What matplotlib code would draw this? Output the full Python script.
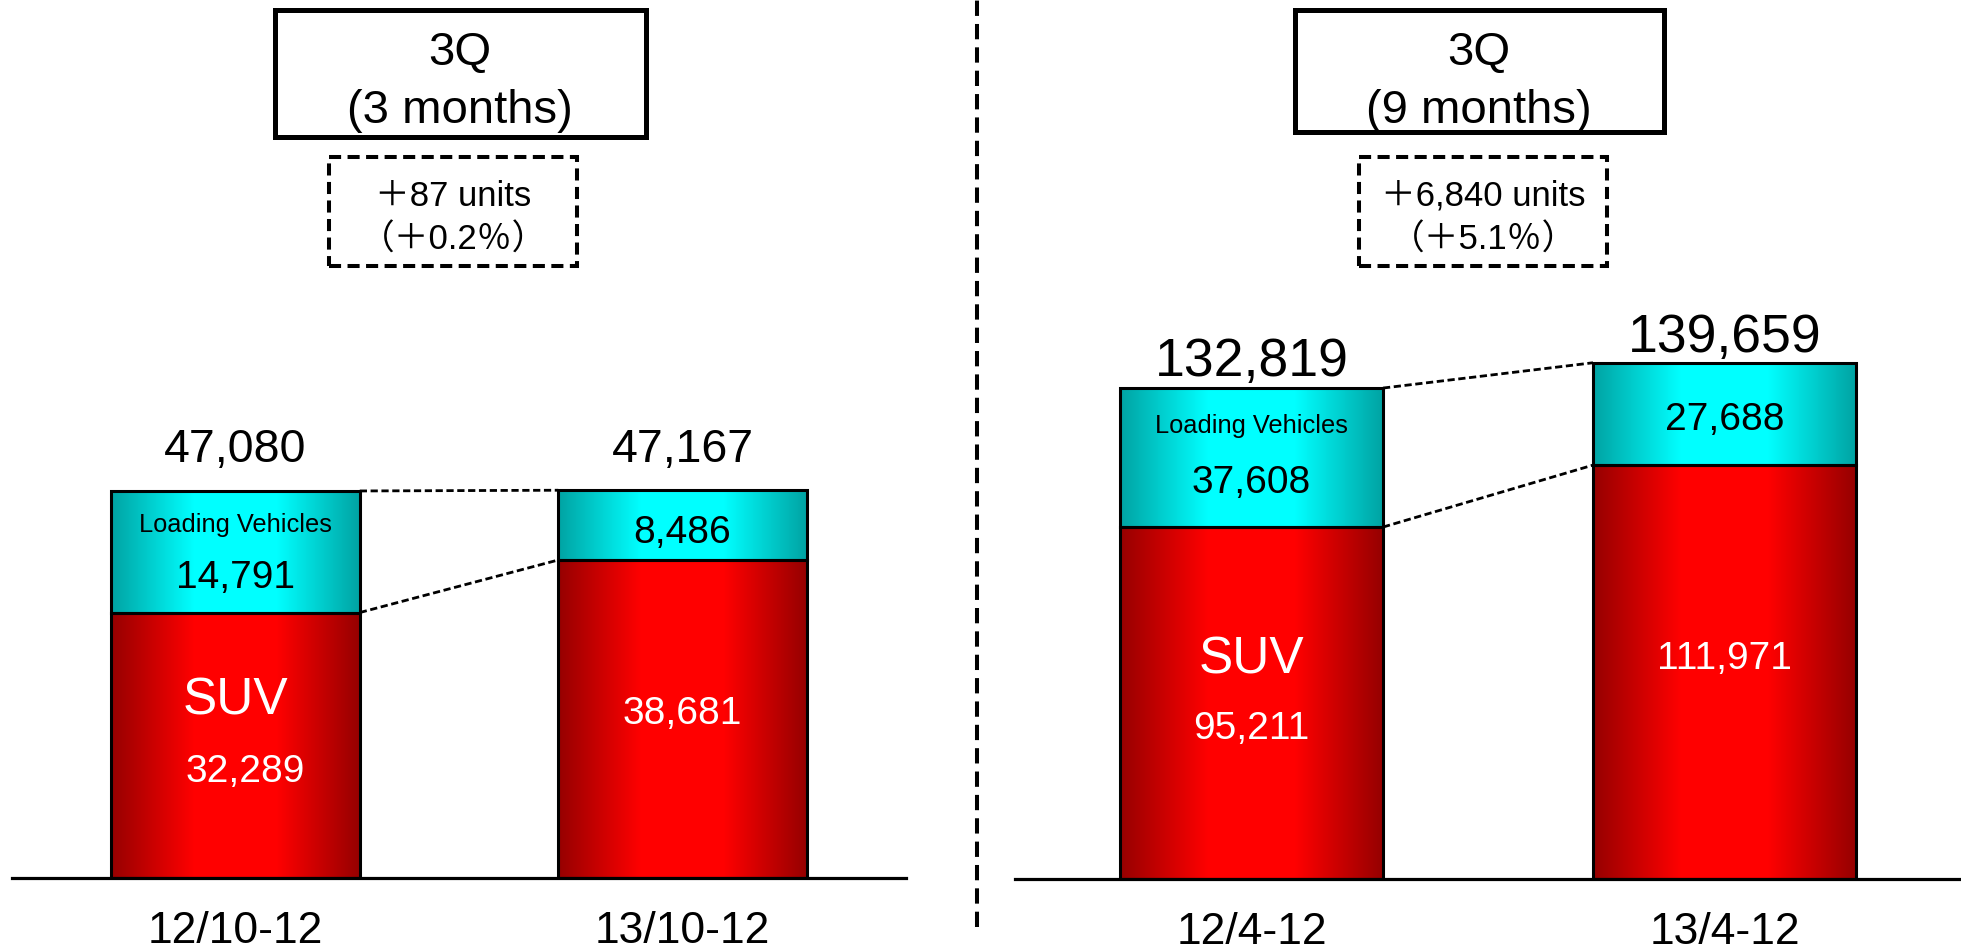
import matplotlib
matplotlib.use("Agg")
import matplotlib.pyplot as plt
import numpy as np
from matplotlib import font_manager
from matplotlib.colors import LinearSegmentedColormap
from matplotlib.patches import Rectangle
from matplotlib.lines import Line2D

W, H = 1961, 951

# sales by segment (units)
periods_3m = ["12/10-12", "13/10-12"]
suv_3m = [32289, 38681]
loading_3m = [14791, 8486]

periods_9m = ["12/4-12", "13/4-12"]
suv_9m = [95211, 111971]
loading_9m = [37608, 27688]

titles = ["3Q\n(3 months)", "3Q\n(9 months)"]

names = {f.name for f in font_manager.fontManager.ttflist}
SANS = "Liberation Sans" if "Liberation Sans" in names else "DejaVu Sans"
if "Liberation Sans Narrow" in names:
    NARROW, NARROW_SIZE = "Liberation Sans Narrow", 21
else:
    # no narrow face installed: shrink the regular one to the same width
    NARROW, NARROW_SIZE = SANS, 18.3
MIXED = [SANS, "Noto Sans CJK JP", "DejaVu Sans"]
plt.rcParams["font.family"] = [SANS, "Noto Sans CJK JP", "DejaVu Sans"]

red_cmap = LinearSegmentedColormap.from_list("red_bar", ["#960000", "#ff0000", "#ff0000", "#960000"])
teal_cmap = LinearSegmentedColormap.from_list("teal_bar", ["#00a3a3", "#00ffff", "#00ffff", "#00a3a3"])
grad = np.linspace(0, 1, 256)[None, :]


def px(x, y):
    # pixel position measured from the top-left -> figure fraction
    return x / W, 1 - y / H


def draw_panel(ax, periods, suv, loading, ymax, total_size, top_off, text_pos):
    x = np.arange(len(periods))
    width = 0.556
    totals = [s + l for s, l in zip(suv, loading)]

    suv_bars = ax.bar(x, suv, width, facecolor="none", edgecolor="black", lw=2.2, zorder=3)
    lv_bars = ax.bar(x, loading, width, bottom=suv, facecolor="none", edgecolor="black", lw=2.2, zorder=3)
    for bars, cmap in ((suv_bars, red_cmap), (lv_bars, teal_cmap)):
        for b in bars:
            x0, y0 = b.get_x(), b.get_y()
            ax.imshow(grad, cmap=cmap, aspect="auto", interpolation="bilinear",
                      extent=[x0, x0 + b.get_width(), y0, y0 + b.get_height()],
                      clip_path=b, zorder=2)

    # dashed connectors between the two bars
    for a, b in ((totals[0], totals[1]), (suv[0], suv[1])):
        ax.plot([x[0] + width / 2, x[1] - width / 2], [a, b], color="black",
                lw=2, ls=(0, (2.6, 1.3)), zorder=1)

    for i in x:
        ax.annotate(f"{totals[i]:,}", (i, totals[i]), xytext=(0, top_off[i] * 0.72),
                    textcoords="offset points", ha="center", va="baseline", fontsize=total_size)
        s, l = suv[i], loading[i]
        if i == 0:
            ax.text(i, s + l * text_pos["lv_name"], "Loading Vehicles", ha="center",
                    va="baseline", fontsize=NARROW_SIZE, family=NARROW)
            ax.text(i, s * text_pos["suv_name"], "SUV", ha="center", va="baseline",
                    fontsize=37, color="white")
        ax.text(i, s + l * text_pos["lv_val"][i], f"{l:,}", ha="center", va="baseline", fontsize=28)
        ax.text(i + text_pos["suv_dx"][i], s * text_pos["suv_val"][i], f"{s:,}", ha="center",
                va="baseline", fontsize=28, color="white")

    ax.set_xlim(-0.5, 1.5)
    ax.set_ylim(0, ymax)
    ax.set_xticks(x, periods, fontsize=32)
    ax.tick_params(axis="x", length=0, pad=24)
    ax.set_yticks([])
    for side in ("left", "right", "top"):
        ax.spines[side].set_visible(False)
    ax.spines["bottom"].set_linewidth(2.3)
    ax.patch.set_alpha(0)
    return totals


fig = plt.figure(figsize=(W / 100, H / 100), dpi=100)

ax1 = fig.add_axes([12 / W, 73 / H, 894 / W, 878 / H])
ax2 = fig.add_axes([1015 / W, 72 / H, 946 / W, 879 / H])

t3 = draw_panel(ax1, periods_3m, suv_3m, loading_3m, 106800, 33.5, [29, 28],
                {"lv_name": 0.663, "suv_name": 0.616, "lv_val": [0.202, 0.244],
                 "suv_val": [0.362, 0.484], "suv_dx": [0.022, 0]})
t9 = draw_panel(ax2, periods_9m, suv_9m, loading_9m, 237800, 38.5, [12, 11],
                {"lv_name": 0.676, "suv_name": 0.584, "lv_val": [0.245, 0.342],
                 "suv_val": [0.398, 0.507], "suv_dx": [0, 0]})

# title boxes and change boxes above each panel
for totals, title, cx, (bx0, bx1, by1) in ((t3, titles[0], 460, (274.5, 645.5, 136.5)),
                                           (t9, titles[1], 1479, (1294.5, 1663.5, 131.5))):
    x0, y0 = px(bx0, by1)
    x1, y1 = px(bx1, 9.5)
    fig.patches.append(Rectangle((x0, y0), x1 - x0, y1 - y0, transform=fig.transFigure,
                                 fill=False, edgecolor="black", lw=3.6))
    line1, line2 = title.split("\n")
    fig.text(*px(cx, 65), line1, ha="center", va="baseline", fontsize=34)
    fig.text(*px(cx, 123), line2, ha="center", va="baseline", fontsize=34)

    diff = totals[1] - totals[0]
    pct = diff / totals[0] * 100
    dcx = cx - 7 if cx < 900 else cx + 4
    x0, y0 = px(dcx - 124, 266)
    x1, y1 = px(dcx + 124, 157)
    fig.patches.append(Rectangle((x0, y0), x1 - x0, y1 - y0, transform=fig.transFigure,
                                 fill=False, edgecolor="black", lw=2.9, ls=(0, (3, 1.6))))
    fig.text(*px(dcx, 206), f"＋{diff:,} units", ha="center", va="baseline", fontsize=25, family=MIXED)
    fig.text(*px(dcx, 250), f"（＋{pct:.1f}％）", ha="center", va="baseline", fontsize=25, family=MIXED)

# divider between the two panels
fig.add_artist(Line2D([977 / W, 977 / W], [1 - 927 / H, 1], transform=fig.transFigure,
                      color="black", lw=2.9, ls=(0, (3.8, 2))))

fig.savefig("out.png", dpi=100)
